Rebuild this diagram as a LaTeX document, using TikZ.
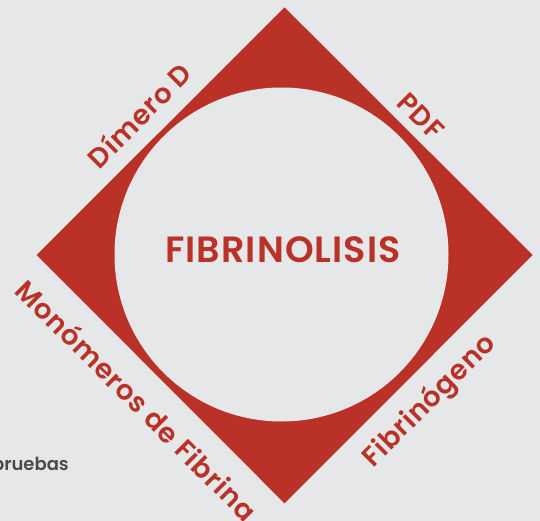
\documentclass[tikz,border=0pt]{standalone}
\usepackage{fontspec}
\setmainfont{Poppins}[BoldFont={Poppins SemiBold}]
\newfontfamily\lblfont{Poppins SemiBold}[LetterSpace=3]
\newfontfamily\grayfont{Poppins SemiBold}
\definecolor{bgc}{RGB}{230,231,232}
\definecolor{fibred}{RGB}{186,49,39}
\definecolor{txtgray}{RGB}{74,74,76}
\begin{document}
\begin{tikzpicture}[x=1pt,y=-1pt,
  lbl/.style={inner sep=0pt,anchor=base,text=fibred,font=\lblfont\fontsize{27.5}{27.5}\selectfont},
  ttl/.style={inner sep=0pt,anchor=base,text=fibred,font=\lblfont\fontsize{36.5}{36.5}\selectfont}]
\fill[bgc] (0,0) rectangle (540,521);
\useasboundingbox (0,0) rectangle (540,521);
\fill[fibred] (284.5,7.3) -- (532.7,255) -- (284.5,503.3) -- (36.7,255) -- cycle;
\fill[bgc] (281.5,254.5) circle[radius=167];
\node[ttl] (title) at (283,262.7) {FIBRINOLISIS};
\node[lbl,rotate=45] (dimero) at (146.7,123) {Dímero D};
\node[lbl,rotate=-45] (pdf) at (413.8,123.1) {PDF};
\node[lbl,rotate=-45] (mono) at (129.3,407.9) {Monómeros de Fibrina};
\node[lbl,rotate=45] (fibri) at (435,406.7) {Fibrinógeno};
\node[inner sep=0pt,anchor=base east,text=txtgray,font=\grayfont\fontsize{18}{18}\selectfont] (pru) at (69,470.5) {pruebas};
\end{tikzpicture}
\end{document}
